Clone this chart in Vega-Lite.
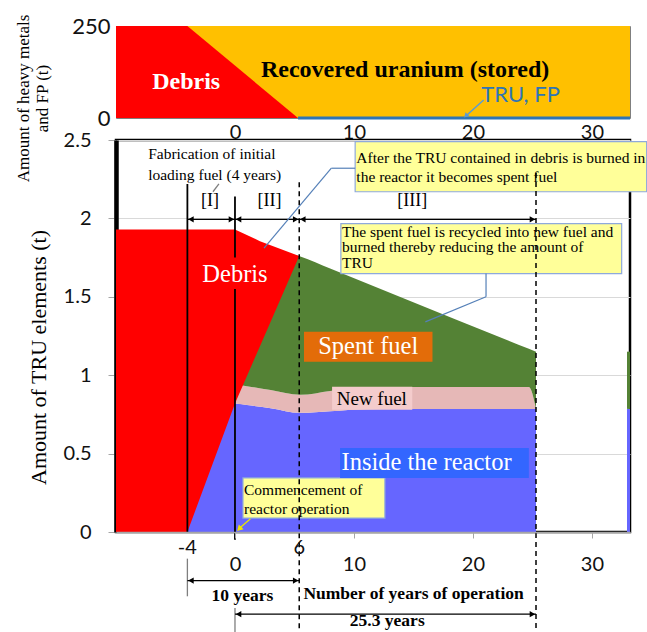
{
  "$schema": "https://vega.github.io/schema/vega-lite/v6.json",
  "padding": {"left": 13, "top": 13, "right": 0, "bottom": 0},
  "bounds": "flush",
  "spacing": 22,
  "config": {"view": {"stroke": null}},
  "datasets": {
    "topAreas": [
      {"s": "uranium", "x": -10, "lo": 0, "hi": 250},
      {"s": "uranium", "x": 33.2, "lo": 0, "hi": 250},
      {"s": "debris", "x": -10, "lo": 0, "hi": 250},
      {"s": "debris", "x": -4, "lo": 0, "hi": 250},
      {"s": "debris", "x": 5.3, "lo": 0, "hi": 0}
    ],
    "topRules": [
      {"k": "tru", "x": 5.3, "x2": 33.2, "y": 0, "y2": 0},
      {"k": "arrow", "x": 20.9, "x2": 19.5, "y": 49, "y2": 8}
    ],
    "topHeads": [{"x": 19.4, "y": 6}],
    "topTexts": [
      {"k": "white", "t": "Debris", "x": -4.1, "y": 98.6},
      {"k": "black", "t": "Recovered uranium (stored)", "x": 14.3, "y": 130},
      {"k": "blue", "t": "TRU, FP", "x": 24.0, "y": 62.5}
    ],
    "areas": [
      {"s": "inside", "x": -4, "lo": 0, "hi": 0.82},
      {"s": "inside", "x": 0, "lo": 0, "hi": 0.82},
      {"s": "inside", "x": 1, "lo": 0, "hi": 0.81},
      {"s": "inside", "x": 3, "lo": 0, "hi": 0.79},
      {"s": "inside", "x": 5.5, "lo": 0, "hi": 0.76},
      {"s": "inside", "x": 8, "lo": 0, "hi": 0.77},
      {"s": "inside", "x": 11, "lo": 0, "hi": 0.783},
      {"s": "inside", "x": 14, "lo": 0, "hi": 0.785},
      {"s": "inside", "x": 25.3, "lo": 0, "hi": 0.785},
      {"s": "new", "x": 0, "lo": 0.82, "hi": 0.94},
      {"s": "new", "x": 1, "lo": 0.81, "hi": 0.93},
      {"s": "new", "x": 3, "lo": 0.79, "hi": 0.905},
      {"s": "new", "x": 5.5, "lo": 0.76, "hi": 0.875},
      {"s": "new", "x": 8, "lo": 0.77, "hi": 0.9},
      {"s": "new", "x": 11, "lo": 0.783, "hi": 0.92},
      {"s": "new", "x": 14, "lo": 0.785, "hi": 0.925},
      {"s": "new", "x": 24.7, "lo": 0.785, "hi": 0.925},
      {"s": "new", "x": 25.3, "lo": 0.785, "hi": 0.785},
      {"s": "spent", "x": 0, "lo": 0.94, "hi": 1.9},
      {"s": "spent", "x": 1, "lo": 0.93, "hi": 1.87},
      {"s": "spent", "x": 3, "lo": 0.905, "hi": 1.8},
      {"s": "spent", "x": 5.5, "lo": 0.875, "hi": 1.757},
      {"s": "spent", "x": 8, "lo": 0.9, "hi": 1.68},
      {"s": "spent", "x": 11, "lo": 0.92, "hi": 1.588},
      {"s": "spent", "x": 14, "lo": 0.925, "hi": 1.496},
      {"s": "spent", "x": 24.7, "lo": 0.925, "hi": 1.168},
      {"s": "spent", "x": 25.3, "lo": 0.785, "hi": 1.15},
      {"s": "debris", "x": -10, "lo": 0, "hi": 1.93},
      {"s": "debris", "x": -4, "lo": 0, "hi": 1.93},
      {"s": "debris", "x": 0, "lo": 0.82, "hi": 1.93},
      {"s": "debris", "x": 2.1, "lo": 1.185, "hi": 1.855},
      {"s": "debris", "x": 5.4, "lo": 1.76, "hi": 1.76}
    ],
    "rects": [
      {"k": "inside", "x1": 32.95, "x2": 33.2, "y1": 0, "y2": 0.785},
      {"k": "spent", "x1": 32.95, "x2": 33.2, "y1": 0.785, "y2": 1.15},
      {"k": "note", "x1": 10.1, "x2": 34.6, "y1": 2.49, "y2": 2.17},
      {"k": "note", "x1": 8.9, "x2": 32.5, "y1": 1.967, "y2": 1.648},
      {"k": "note", "x1": 0.67, "x2": 12.6, "y1": 0.345, "y2": 0.089},
      {"k": "lab_spent", "x1": 5.8, "x2": 16.6, "y1": 1.277, "y2": 1.086},
      {"k": "lab_new", "x1": 8.16, "x2": 14.9, "y1": 0.926, "y2": 0.779},
      {"k": "lab_inside", "x1": 8.83, "x2": 24.7, "y1": 0.536, "y2": 0.345}
    ],
    "rules": [
      {"k": "solid", "x": -4, "x2": -4, "y": 2.22, "y2": 0},
      {"k": "solid", "x": 0, "x2": 0, "y": 2.14, "y2": 1.75},
      {"k": "solid", "x": 0, "x2": 0, "y": 1.55, "y2": -0.05},
      {"k": "gray", "x": -4, "x2": -4, "y": -0.17, "y2": -0.41},
      {"k": "gray", "x": 0, "x2": 0, "y": -0.485, "y2": -0.64},
      {"k": "gray", "x": -1.35, "x2": -1.85, "y": 2.22, "y2": 2.17},
      {"k": "dash", "x": 5.4, "x2": 5.4, "y": 2.23, "y2": -0.64},
      {"k": "dash", "x": 25.3, "x2": 25.3, "y": 2.29, "y2": -0.64},
      {"k": "arrow", "x": -4, "x2": 0, "y": 1.994, "y2": 1.994},
      {"k": "arrow", "x": 0, "x2": 5.4, "y": 1.994, "y2": 1.994},
      {"k": "arrow", "x": 5.4, "x2": 25.3, "y": 1.994, "y2": 1.994},
      {"k": "arrow", "x": -4, "x2": 5.4, "y": -0.31, "y2": -0.31},
      {"k": "arrow", "x": 0, "x2": 25.3, "y": -0.524, "y2": -0.524},
      {"k": "leader", "x": 10.1, "x2": 8.1, "y": 2.32, "y2": 2.32},
      {"k": "leader", "x": 8.1, "x2": 2.44, "y": 2.32, "y2": 1.81},
      {"k": "leader", "x": 21.1, "x2": 21.1, "y": 1.648, "y2": 1.5},
      {"k": "leader", "x": 21.1, "x2": 16.0, "y": 1.5, "y2": 1.34},
      {"k": "yellow", "x": 1.3, "x2": 0.4, "y": 0.085, "y2": 0.025}
    ],
    "heads": [
      {"d": "L", "x": -3.7, "y": 1.994}, {"d": "R", "x": -0.3, "y": 1.994},
      {"d": "L", "x": 0.3, "y": 1.994}, {"d": "R", "x": 5.1, "y": 1.994},
      {"d": "L", "x": 5.7, "y": 1.994}, {"d": "R", "x": 25.0, "y": 1.994},
      {"d": "L", "x": -3.7, "y": -0.31}, {"d": "R", "x": 5.1, "y": -0.31},
      {"d": "L", "x": 0.3, "y": -0.524}, {"d": "R", "x": 25.0, "y": -0.524}
    ],
    "yhead": [{"x": 0.35, "y": 0.02}],
    "texts": [
      {"k": "note", "t": "Fabrication of initial", "x": -7.3, "y": 2.41},
      {"k": "note", "t": "loading fuel (4 years)", "x": -7.3, "y": 2.275},
      {"k": "note", "t": "After the TRU contained in debris is burned in", "x": 10.2, "y": 2.388},
      {"k": "note", "t": "the reactor it becomes spent fuel", "x": 10.2, "y": 2.264},
      {"k": "note", "t": "The spent fuel is recycled into new fuel and", "x": 9.0, "y": 1.916},
      {"k": "note", "t": "burned thereby reducing the amount of", "x": 9.0, "y": 1.818},
      {"k": "note", "t": "TRU", "x": 9.0, "y": 1.718},
      {"k": "note", "t": "Commencement of", "x": 0.76, "y": 0.268},
      {"k": "note", "t": "reactor operation", "x": 0.76, "y": 0.147},
      {"k": "phase", "t": "[I]", "x": -2.1, "y": 2.11},
      {"k": "phase", "t": "[II]", "x": 2.9, "y": 2.11},
      {"k": "phase", "t": "[III]", "x": 14.9, "y": 2.11},
      {"k": "white", "t": "Debris", "x": 0.0, "y": 1.64},
      {"k": "white", "t": "Spent fuel", "x": 11.2, "y": 1.18},
      {"k": "white", "t": "Inside the reactor", "x": 16.1, "y": 0.44},
      {"k": "newfuel", "t": "New fuel", "x": 11.5, "y": 0.85},
      {"k": "tick", "t": "-4", "x": -4, "y": -0.1},
      {"k": "tick", "t": "6", "x": 5.4, "y": -0.1},
      {"k": "bold", "t": "10 years", "x": 0.63, "y": -0.41},
      {"k": "bold", "t": "25.3 years", "x": 12.8, "y": -0.57},
      {"k": "boldL", "t": "Number of years of operation", "x": 5.75, "y": -0.396}
    ]
  },
  "vconcat": [
    {
      "width": 514,
      "height": 92,
      "view": {"stroke": "#7F7F7F", "strokeWidth": 1},
      "layer": [
        {
          "data": {"name": "topAreas"},
          "transform": [{"filter": "datum.s === 'uranium'"}],
          "mark": {"type": "area", "color": "#FFC000"},
          "encoding": {
            "x": {"field": "x", "type": "quantitative", "scale": {"domain": [-10, 33.2], "nice": false, "zero": false},
              "axis": {"values": [0, 10, 20, 30], "title": null, "grid": false, "domain": false, "ticks": false, "labelPadding": 4, "labelFontSize": 20, "labelColor": "#111111", "labelFont": "Lato", "labelFlush": false}},
            "y": {"field": "hi", "type": "quantitative", "scale": {"domain": [0, 250], "nice": false, "zero": false},
              "axis": {"values": [0, 250], "grid": false, "domain": false, "ticks": false, "labelPadding": 6, "labelFontSize": 22, "labelColor": "#111111", "labelFont": "Lato", "labelFlush": false,
                "title": ["Amount of heavy metals", "and FP (t)"], "titleFont": "Liberation Serif", "titleFontSize": 17, "titleFontWeight": "normal", "titleColor": "#000000",
                "titleX": -93, "titleY": 72, "titleAngle": -90, "titleAlign": "center", "titleBaseline": "middle", "titleLineHeight": 19}},
            "y2": {"field": "lo"}
          }
        },
        {
          "data": {"name": "topAreas"},
          "transform": [{"filter": "datum.s === 'debris'"}],
          "mark": {"type": "area", "color": "#FF0000"},
          "encoding": {
            "x": {"field": "x", "type": "quantitative", "scale": {"domain": [-10, 33.2], "nice": false, "zero": false}},
            "y": {"field": "hi", "type": "quantitative", "scale": {"domain": [0, 250], "nice": false, "zero": false}},
            "y2": {"field": "lo"}
          }
        },
        {
          "data": {"name": "topRules"},
          "transform": [{"filter": "datum.k === 'tru'"}],
          "mark": {"type": "rule", "color": "#2E75B6", "strokeWidth": 3},
          "encoding": {
            "x": {"field": "x", "type": "quantitative", "scale": {"domain": [-10, 33.2], "nice": false, "zero": false}},
            "x2": {"field": "x2"},
            "y": {"field": "y", "type": "quantitative", "scale": {"domain": [0, 250], "nice": false, "zero": false}},
            "y2": {"field": "y2"}
          }
        },
        {
          "data": {"name": "topRules"},
          "transform": [{"filter": "datum.k === 'arrow'"}],
          "mark": {"type": "rule", "color": "#5B9BD5", "strokeWidth": 1.5},
          "encoding": {
            "x": {"field": "x", "type": "quantitative", "scale": {"domain": [-10, 33.2], "nice": false, "zero": false}},
            "x2": {"field": "x2"},
            "y": {"field": "y", "type": "quantitative", "scale": {"domain": [0, 250], "nice": false, "zero": false}},
            "y2": {"field": "y2"}
          }
        },
        {
          "data": {"name": "topHeads"},
          "mark": {"type": "point", "shape": "triangle-up", "filled": true, "color": "#5B9BD5", "size": 30, "angle": 225, "opacity": 1},
          "encoding": {
            "x": {"field": "x", "type": "quantitative", "scale": {"domain": [-10, 33.2], "nice": false, "zero": false}},
            "y": {"field": "y", "type": "quantitative", "scale": {"domain": [0, 250], "nice": false, "zero": false}}
          }
        },
        {
          "data": {"name": "topTexts"},
          "transform": [{"filter": "datum.k === 'white'"}],
          "mark": {"type": "text", "font": "Liberation Serif", "fontWeight": "bold", "fontSize": 24, "color": "#FFFFFF", "align": "center", "baseline": "middle"},
          "encoding": {
            "x": {"field": "x", "type": "quantitative", "scale": {"domain": [-10, 33.2], "nice": false, "zero": false}},
            "y": {"field": "y", "type": "quantitative", "scale": {"domain": [0, 250], "nice": false, "zero": false}},
            "text": {"field": "t"}
          }
        },
        {
          "data": {"name": "topTexts"},
          "transform": [{"filter": "datum.k === 'black'"}],
          "mark": {"type": "text", "font": "Liberation Serif", "fontWeight": "bold", "fontSize": 24, "color": "#000000", "align": "center", "baseline": "middle"},
          "encoding": {
            "x": {"field": "x", "type": "quantitative", "scale": {"domain": [-10, 33.2], "nice": false, "zero": false}},
            "y": {"field": "y", "type": "quantitative", "scale": {"domain": [0, 250], "nice": false, "zero": false}},
            "text": {"field": "t"}
          }
        },
        {
          "data": {"name": "topTexts"},
          "transform": [{"filter": "datum.k === 'blue'"}],
          "mark": {"type": "text", "font": "Lato", "fontSize": 22, "color": "#2E75B6", "align": "center", "baseline": "middle"},
          "encoding": {
            "x": {"field": "x", "type": "quantitative", "scale": {"domain": [-10, 33.2], "nice": false, "zero": false}},
            "y": {"field": "y", "type": "quantitative", "scale": {"domain": [0, 250], "nice": false, "zero": false}},
            "text": {"field": "t"}
          }
        }
      ]
    },
    {
      "width": 514,
      "height": 392,
      "view": {"stroke": "#000000", "strokeWidth": 2.5},
      "layer": [
        {
          "data": {"name": "areas"},
          "transform": [{"filter": "datum.s === 'inside'"}],
          "mark": {"type": "area", "color": "#6666FF", "interpolate": "monotone"},
          "encoding": {
            "x": {"field": "x", "type": "quantitative", "scale": {"domain": [-10, 33.2], "nice": false, "zero": false},
              "axis": {"values": [0, 10, 20, 30], "title": null, "grid": false, "domainColor": "#A6A6A6", "domainWidth": 1.5, "tickColor": "#A6A6A6", "tickSize": 6, "labelPadding": 16, "labelFontSize": 20, "labelColor": "#111111", "labelFont": "Lato", "labelFlush": false, "zindex": 1}},
            "y": {"field": "hi", "type": "quantitative", "scale": {"domain": [0, 2.5], "nice": false, "zero": false},
              "axis": {"values": [0, 0.5, 1, 1.5, 2, 2.5], "format": "~g", "grid": true, "gridColor": "#D9D9D9", "gridWidth": 1, "domainColor": "#000000", "domainWidth": 4.5, "tickColor": "#A6A6A6", "tickSize": 8, "labelPadding": 17, "labelFontSize": 20, "labelColor": "#111111", "labelFont": "Lato", "labelFlush": false,
                "title": "Amount of  TRU elements (t)", "titleFont": "Liberation Serif", "titleFontSize": 22, "titleFontWeight": "normal", "titleColor": "#000000",
                "titleX": -78, "titleY": 217, "titleAngle": -90, "titleAlign": "center", "titleBaseline": "middle", "zindex": 0}},
            "y2": {"field": "lo"}
          }
        },
        {
          "data": {"name": "areas"},
          "transform": [{"filter": "datum.s === 'new'"}],
          "mark": {"type": "area", "color": "#E6B8B7", "interpolate": "monotone"},
          "encoding": {
            "x": {"field": "x", "type": "quantitative", "scale": {"domain": [-10, 33.2], "nice": false, "zero": false}},
            "y": {"field": "hi", "type": "quantitative", "scale": {"domain": [0, 2.5], "nice": false, "zero": false}},
            "y2": {"field": "lo"}
          }
        },
        {
          "data": {"name": "areas"},
          "transform": [{"filter": "datum.s === 'spent'"}],
          "mark": {"type": "area", "color": "#548235", "interpolate": "monotone"},
          "encoding": {
            "x": {"field": "x", "type": "quantitative", "scale": {"domain": [-10, 33.2], "nice": false, "zero": false}},
            "y": {"field": "hi", "type": "quantitative", "scale": {"domain": [0, 2.5], "nice": false, "zero": false}},
            "y2": {"field": "lo"}
          }
        },
        {
          "data": {"name": "areas"},
          "transform": [{"filter": "datum.s === 'debris'"}],
          "mark": {"type": "area", "color": "#FF0000"},
          "encoding": {
            "x": {"field": "x", "type": "quantitative", "scale": {"domain": [-10, 33.2], "nice": false, "zero": false}},
            "y": {"field": "hi", "type": "quantitative", "scale": {"domain": [0, 2.5], "nice": false, "zero": false}},
            "y2": {"field": "lo"}
          }
        },
        {
          "data": {"name": "rects"},
          "mark": {"type": "rect", "stroke": "#8EA9DB"},
          "encoding": {
            "x": {"field": "x1", "type": "quantitative", "scale": {"domain": [-10, 33.2], "nice": false, "zero": false}},
            "x2": {"field": "x2"},
            "y": {"field": "y1", "type": "quantitative", "scale": {"domain": [0, 2.5], "nice": false, "zero": false}},
            "y2": {"field": "y2"},
            "color": {"field": "k", "type": "nominal", "legend": null,
              "scale": {"domain": ["inside", "spent", "note", "lab_spent", "lab_new", "lab_inside"], "range": ["#6666FF", "#548235", "#FFFF99", "#E36C09", "#F4CCCC", "#3366FF"]}},
            "strokeWidth": {"condition": {"test": "datum.k === 'note'", "value": 1.2}, "value": 0},
            "opacity": {"value": 1}
          }
        },
        {
          "data": {"name": "rules"},
          "transform": [{"filter": "datum.k === 'solid'"}],
          "mark": {"type": "rule", "color": "#000000", "strokeWidth": 1.8},
          "encoding": {
            "x": {"field": "x", "type": "quantitative", "scale": {"domain": [-10, 33.2], "nice": false, "zero": false}},
            "x2": {"field": "x2"},
            "y": {"field": "y", "type": "quantitative", "scale": {"domain": [0, 2.5], "nice": false, "zero": false}},
            "y2": {"field": "y2"}
          }
        },
        {
          "data": {"name": "rules"},
          "transform": [{"filter": "datum.k === 'gray'"}],
          "mark": {"type": "rule", "color": "#7F7F7F", "strokeWidth": 1.3},
          "encoding": {
            "x": {"field": "x", "type": "quantitative", "scale": {"domain": [-10, 33.2], "nice": false, "zero": false}},
            "x2": {"field": "x2"},
            "y": {"field": "y", "type": "quantitative", "scale": {"domain": [0, 2.5], "nice": false, "zero": false}},
            "y2": {"field": "y2"}
          }
        },
        {
          "data": {"name": "rules"},
          "transform": [{"filter": "datum.k === 'dash'"}],
          "mark": {"type": "rule", "color": "#000000", "strokeWidth": 1.5, "strokeDash": [5, 4]},
          "encoding": {
            "x": {"field": "x", "type": "quantitative", "scale": {"domain": [-10, 33.2], "nice": false, "zero": false}},
            "x2": {"field": "x2"},
            "y": {"field": "y", "type": "quantitative", "scale": {"domain": [0, 2.5], "nice": false, "zero": false}},
            "y2": {"field": "y2"}
          }
        },
        {
          "data": {"name": "rules"},
          "transform": [{"filter": "datum.k === 'arrow'"}],
          "mark": {"type": "rule", "color": "#000000", "strokeWidth": 1.3},
          "encoding": {
            "x": {"field": "x", "type": "quantitative", "scale": {"domain": [-10, 33.2], "nice": false, "zero": false}},
            "x2": {"field": "x2"},
            "y": {"field": "y", "type": "quantitative", "scale": {"domain": [0, 2.5], "nice": false, "zero": false}},
            "y2": {"field": "y2"}
          }
        },
        {
          "data": {"name": "rules"},
          "transform": [{"filter": "datum.k === 'leader'"}],
          "mark": {"type": "rule", "color": "#5580B8", "strokeWidth": 1.2},
          "encoding": {
            "x": {"field": "x", "type": "quantitative", "scale": {"domain": [-10, 33.2], "nice": false, "zero": false}},
            "x2": {"field": "x2"},
            "y": {"field": "y", "type": "quantitative", "scale": {"domain": [0, 2.5], "nice": false, "zero": false}},
            "y2": {"field": "y2"}
          }
        },
        {
          "data": {"name": "rules"},
          "transform": [{"filter": "datum.k === 'yellow'"}],
          "mark": {"type": "rule", "color": "#E8E800", "strokeWidth": 1.3},
          "encoding": {
            "x": {"field": "x", "type": "quantitative", "scale": {"domain": [-10, 33.2], "nice": false, "zero": false}},
            "x2": {"field": "x2"},
            "y": {"field": "y", "type": "quantitative", "scale": {"domain": [0, 2.5], "nice": false, "zero": false}},
            "y2": {"field": "y2"}
          }
        },
        {
          "data": {"name": "yhead"},
          "mark": {"type": "point", "shape": "triangle-up", "filled": true, "color": "#F2E600", "size": 45, "angle": 225, "opacity": 1},
          "encoding": {
            "x": {"field": "x", "type": "quantitative", "scale": {"domain": [-10, 33.2], "nice": false, "zero": false}},
            "y": {"field": "y", "type": "quantitative", "scale": {"domain": [0, 2.5], "nice": false, "zero": false}}
          }
        },
        {
          "data": {"name": "heads"},
          "transform": [{"filter": "datum.d === 'L'"}],
          "mark": {"type": "point", "shape": "triangle-left", "filled": true, "color": "#000000", "size": 40, "opacity": 1},
          "encoding": {
            "x": {"field": "x", "type": "quantitative", "scale": {"domain": [-10, 33.2], "nice": false, "zero": false}},
            "y": {"field": "y", "type": "quantitative", "scale": {"domain": [0, 2.5], "nice": false, "zero": false}}
          }
        },
        {
          "data": {"name": "heads"},
          "transform": [{"filter": "datum.d === 'R'"}],
          "mark": {"type": "point", "shape": "triangle-right", "filled": true, "color": "#000000", "size": 40, "opacity": 1},
          "encoding": {
            "x": {"field": "x", "type": "quantitative", "scale": {"domain": [-10, 33.2], "nice": false, "zero": false}},
            "y": {"field": "y", "type": "quantitative", "scale": {"domain": [0, 2.5], "nice": false, "zero": false}}
          }
        },
        {
          "data": {"name": "texts"},
          "transform": [{"filter": "datum.k === 'note'"}],
          "mark": {"type": "text", "font": "Liberation Serif", "fontSize": 15.5, "color": "#000000", "align": "left", "baseline": "middle"},
          "encoding": {
            "x": {"field": "x", "type": "quantitative", "scale": {"domain": [-10, 33.2], "nice": false, "zero": false}},
            "y": {"field": "y", "type": "quantitative", "scale": {"domain": [0, 2.5], "nice": false, "zero": false}},
            "text": {"field": "t"}
          }
        },
        {
          "data": {"name": "texts"},
          "transform": [{"filter": "datum.k === 'phase'"}],
          "mark": {"type": "text", "font": "Liberation Serif", "fontSize": 18, "color": "#000000", "align": "center", "baseline": "middle"},
          "encoding": {
            "x": {"field": "x", "type": "quantitative", "scale": {"domain": [-10, 33.2], "nice": false, "zero": false}},
            "y": {"field": "y", "type": "quantitative", "scale": {"domain": [0, 2.5], "nice": false, "zero": false}},
            "text": {"field": "t"}
          }
        },
        {
          "data": {"name": "texts"},
          "transform": [{"filter": "datum.k === 'white'"}],
          "mark": {"type": "text", "font": "Liberation Serif", "fontSize": 24.5, "color": "#FFFFFF", "align": "center", "baseline": "middle"},
          "encoding": {
            "x": {"field": "x", "type": "quantitative", "scale": {"domain": [-10, 33.2], "nice": false, "zero": false}},
            "y": {"field": "y", "type": "quantitative", "scale": {"domain": [0, 2.5], "nice": false, "zero": false}},
            "text": {"field": "t"}
          }
        },
        {
          "data": {"name": "texts"},
          "transform": [{"filter": "datum.k === 'newfuel'"}],
          "mark": {"type": "text", "font": "Liberation Serif", "fontSize": 19, "color": "#000000", "align": "center", "baseline": "middle"},
          "encoding": {
            "x": {"field": "x", "type": "quantitative", "scale": {"domain": [-10, 33.2], "nice": false, "zero": false}},
            "y": {"field": "y", "type": "quantitative", "scale": {"domain": [0, 2.5], "nice": false, "zero": false}},
            "text": {"field": "t"}
          }
        },
        {
          "data": {"name": "texts"},
          "transform": [{"filter": "datum.k === 'tick'"}],
          "mark": {"type": "text", "font": "Lato", "fontSize": 20, "color": "#111111", "align": "center", "baseline": "middle"},
          "encoding": {
            "x": {"field": "x", "type": "quantitative", "scale": {"domain": [-10, 33.2], "nice": false, "zero": false}},
            "y": {"field": "y", "type": "quantitative", "scale": {"domain": [0, 2.5], "nice": false, "zero": false}},
            "text": {"field": "t"}
          }
        },
        {
          "data": {"name": "texts"},
          "transform": [{"filter": "datum.k === 'bold'"}],
          "mark": {"type": "text", "font": "Liberation Serif", "fontWeight": "bold", "fontSize": 17.5, "color": "#000000", "align": "center", "baseline": "middle"},
          "encoding": {
            "x": {"field": "x", "type": "quantitative", "scale": {"domain": [-10, 33.2], "nice": false, "zero": false}},
            "y": {"field": "y", "type": "quantitative", "scale": {"domain": [0, 2.5], "nice": false, "zero": false}},
            "text": {"field": "t"}
          }
        },
        {
          "data": {"name": "texts"},
          "transform": [{"filter": "datum.k === 'boldL'"}],
          "mark": {"type": "text", "font": "Liberation Serif", "fontWeight": "bold", "fontSize": 17.5, "color": "#000000", "align": "left", "baseline": "middle"},
          "encoding": {
            "x": {"field": "x", "type": "quantitative", "scale": {"domain": [-10, 33.2], "nice": false, "zero": false}},
            "y": {"field": "y", "type": "quantitative", "scale": {"domain": [0, 2.5], "nice": false, "zero": false}},
            "text": {"field": "t"}
          }
        }
      ]
    }
  ]
}
